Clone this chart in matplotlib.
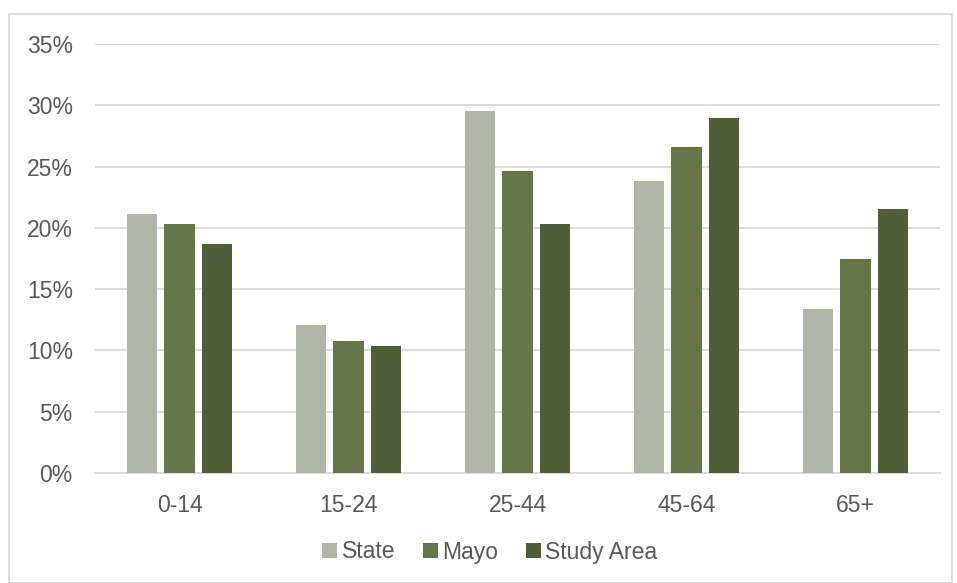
import matplotlib
matplotlib.use("Agg")
import matplotlib.pyplot as plt
import numpy as np
from matplotlib.patches import Rectangle

categories = ["0-14", "15-24", "25-44", "45-64", "65+"]
state = [21.1, 12.1, 29.5, 23.8, 13.4]
mayo = [20.3, 10.8, 24.6, 26.6, 17.5]
study = [18.7, 10.4, 20.3, 29.0, 21.5]
series_names = ["State", "Mayo", "Study Area"]
colors = ["#B0B6A7", "#657548", "#505E37"]
yticks = [0, 5, 10, 15, 20, 25, 30, 35]

plt.rcParams['font.family'] = ['Liberation Sans', 'DejaVu Sans']
W, H = 957, 583
fig = plt.figure(figsize=(W/100, H/100), dpi=100)
ax = fig.add_axes([95/W, 1-473/H, 845/W, (473-44)/H])

x = np.arange(len(categories))
bw = 0.178
step = 0.222
for i, (vals, name, c) in enumerate(zip([state, mayo, study], series_names, colors)):
    ax.bar(x + (i-1)*step, vals, width=bw, color=c, label=name, zorder=3)

ax.set_xlim(-0.5, 4.5)
ax.set_ylim(0, 35)
ax.set_yticks(yticks)
ax.set_yticklabels([f"{t}%" for t in yticks])
ax.set_xticks(x)
ax.set_xticklabels(categories)
ax.grid(axis='y', color='#D9D9D9', linewidth=1.3, zorder=0)
for s in ['top', 'right', 'left']:
    ax.spines[s].set_visible(False)
ax.spines['bottom'].set_color('#D9D9D9')
ax.spines['bottom'].set_linewidth(1.3)
ax.tick_params(axis='both', length=0, labelsize=16.5, colors='#595959')
ax.tick_params(axis='y', pad=16)
ax.tick_params(axis='x', pad=15)

leg = fig.legend(loc='center', bbox_to_anchor=(490/W, 1-552/H), ncol=3, frameon=False,
                 fontsize=16.5, handlelength=0.65, handleheight=0.65, handletextpad=0.2,
                 columnspacing=1.2)
for t in leg.get_texts():
    t.set_color('#595959')

fig.patches.append(Rectangle((9/W, 0), (952-9)/W, 1-14/H, transform=fig.transFigure,
                             fill=False, edgecolor='#D9D9D9', linewidth=1.3))
fig.savefig("out.png", dpi=100, facecolor='white')
